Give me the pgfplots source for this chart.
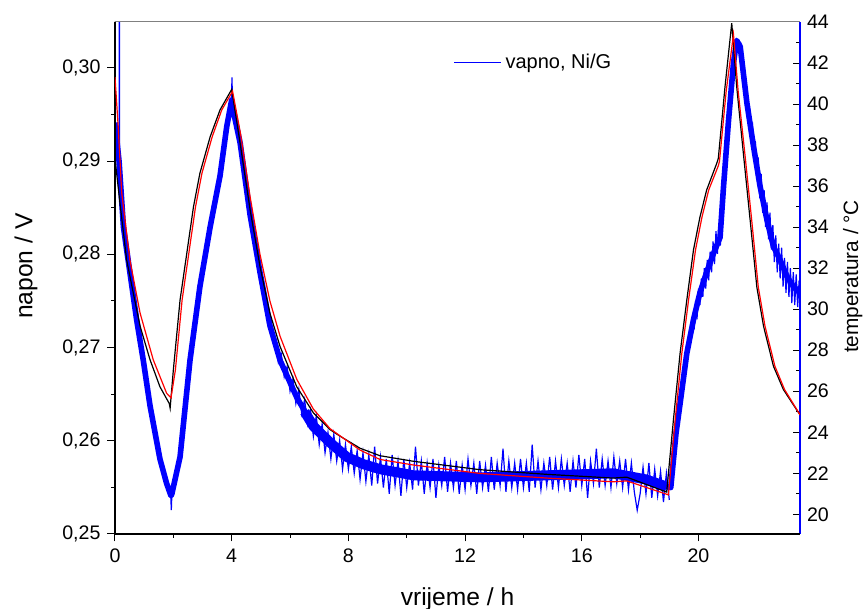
\documentclass[border=0pt]{standalone}
\usepackage{pgfplots}
\pgfplotsset{compat=1.18}
\usepackage{fontspec}
\setmainfont{Liberation Sans}

% temperature (blue, right axis): centre of the band
\pgfplotstableread{
x T
0     39.1
0.14  37.2
0.29  34.0
0.51  31.8
0.74  29.5
0.97  27.5
1.20  25.3
1.54  22.7
1.77  21.5
1.92  20.9
1.95  21.0
2.23  22.8
2.57  27.5
2.91  31.1
3.26  34.0
3.60  36.5
3.83  38.9
4.00  40.2
4.02  39.9
4.29  38.1
4.63  34.6
4.97  31.8
5.31  29.2
5.66  27.5
6.23  25.7
6.80  24.3
7.37  23.5
7.94  22.8
9.08  22.2
10.23 21.9
12.51 21.8
14.80 21.9
17.08 22.0
18.20 21.7
18.91 21.35
19.05 21.3
19.23 23.95
19.37 25.4
19.60 27.85
19.83 29.5
20.05 30.8
20.28 31.8
20.51 32.7
20.74 33.5
20.86 36.0
21.03 39.2
21.20 42.0
21.31 43.1
21.43 42.8
21.66 40.05
21.89 37.9
22.11 36.0
22.34 34.4
22.57 33.05
22.80 32.4
23.03 31.6
23.26 31.1
23.48 30.8
}\temp

% broad part of the band on the plateau
\pgfplotstableread{
x T
6.50  25.0
6.80  24.3
7.37  23.5
7.94  22.8
8.50  22.45
9.08  22.2
10.23 21.9
12.51 21.8
14.80 21.9
17.08 22.0
18.20 21.7
18.91 21.35
}\tempband

% single spikes
\pgfplotstableread{
x T
0.14  37.2
0.15  46.0
0.16  36.8
}\spikea
\pgfplotstableread{
x T
1.91  21.0
1.93  20.2
1.95  21.0
}\spikeb
\pgfplotstableread{
x T
3.99  40.0
4.01  41.3
4.03  39.8
}\spikec

% scatter of the readings round the band
\pgfplotstableread{
x T
5.5 28.6
5.6 27.4
5.7 27.8
5.8 26.7
5.9 27.2
6.0 26.0
6.1 26.6
6.2 25.4
6.3 26.1
6.4 24.9
6.5 25.6
6.6 24.4
6.7 25.1
6.8 23.8
6.9 24.8
7.0 23.4
7.1 24.4
7.2 23.0
7.3 24.0
7.4 22.7
7.5 23.9
7.6 22.6
7.7 23.6
7.8 22.2
7.9 23.4
8.0 22.2
8.1 23.3
8.2 22.0
8.3 23.1
8.4 21.7
8.5 23.0
8.6 21.6
8.7 22.9
8.8 21.4
8.9 23.3
9.0 21.5
9.1 22.8
9.2 21.3
9.3 22.7
9.4 21.0
9.5 22.9
9.6 21.4
9.7 22.6
9.8 20.9
9.9 22.7
10.0 21.3
10.1 22.5
10.2 21.2
10.3 23.3
10.4 21.4
10.5 22.6
10.6 21.0
10.7 22.5
10.8 21.3
10.9 22.7
11.0 20.8
11.1 22.4
11.2 21.4
11.3 22.8
11.4 21.1
11.5 22.5
11.6 21.3
11.7 22.6
11.8 21.0
11.9 22.4
12.0 21.2
12.1 22.7
12.2 21.4
12.3 22.5
12.4 21.0
12.5 22.6
12.6 21.3
12.7 22.4
12.8 21.1
12.9 22.8
13.0 21.2
13.1 22.5
13.2 21.4
13.3 23.2
13.4 21.1
13.5 22.6
13.6 21.3
13.7 22.5
13.8 21.2
13.9 22.7
14.0 21.3
14.1 22.5
14.2 21.1
14.3 23.4
14.4 21.3
14.5 22.6
14.6 21.2
14.7 22.5
14.8 21.4
14.9 22.8
15.0 21.2
15.1 22.6
15.2 21.3
15.3 22.7
15.4 21.4
15.5 22.5
15.6 21.1
15.7 22.6
15.8 21.3
15.9 22.9
16.0 21.4
16.1 22.7
16.2 20.8
16.3 22.6
16.4 21.5
16.5 23.2
16.6 21.3
16.7 22.7
16.8 21.4
16.9 22.6
17.0 21.3
17.1 22.8
17.2 21.5
17.3 22.6
17.4 21.3
17.5 22.7
17.6 21.2
17.7 22.5
17.8 21.1
17.9 20.2
18.0 21.0
18.1 22.3
18.2 21.0
18.3 22.5
18.4 20.8
18.5 22.2
18.6 20.9
18.7 22.1
18.8 20.6
18.9 22.0
19.0 20.7
}\tempnoisea

\pgfplotstableread{
x T
19.85 29.0
19.90 30.4
19.95 29.5
20.00 31.0
20.05 30.2
20.10 31.5
20.15 30.6
20.20 32.0
20.25 31.0
20.30 32.4
20.35 31.4
20.40 32.8
20.45 31.8
20.50 33.3
20.55 32.2
20.60 33.8
20.65 32.7
20.70 34.2
20.75 33.1
20.80 34.7
}\tempnoiseb

\pgfplotstableread{
x T
21.45 43.0
21.50 41.4
21.55 42.0
21.60 40.2
21.65 40.9
21.70 39.1
21.75 39.9
21.80 38.1
21.85 39.1
21.90 37.2
21.95 38.2
22.00 36.3
22.05 37.4
22.10 35.4
22.15 36.6
22.20 34.7
22.25 35.8
22.30 34.0
22.35 35.2
22.40 33.4
22.45 34.7
22.50 32.9
22.55 34.1
22.60 32.3
22.65 33.6
22.70 31.8
22.75 33.2
22.80 31.5
22.85 33.0
22.90 31.1
22.95 32.5
23.00 30.8
23.05 32.3
23.10 30.6
23.15 32.0
23.20 30.3
23.25 31.8
23.30 30.2
23.35 31.7
23.40 30.1
23.45 31.4
23.48 30.5
}\tempnoisec

% voltage, black
\pgfplotstableread{
x V
0     0.312
0.01  0.2900
0.17  0.2855
0.40  0.2794
0.63  0.2758
0.86  0.2723
1.20  0.2687
1.54  0.2658
1.86  0.2640
1.89  0.2635
2.00  0.2676
2.23  0.2751
2.46  0.2801
2.69  0.2851
2.91  0.2887
3.26  0.2926
3.60  0.2955
4.00  0.2977
4.29  0.2919
4.63  0.2848
4.97  0.2787
5.31  0.2737
5.66  0.2701
6.23  0.2658
6.80  0.2630
7.37  0.2612
7.71  0.2605
8.40  0.2592
9.08  0.2584
10.23 0.2578
12.51 0.2569
14.80 0.2564
17.08 0.2560
17.54 0.2561
18.91 0.2545
19.14 0.2622
19.37 0.2694
19.60 0.2751
19.83 0.2805
20.05 0.2840
20.28 0.2869
20.63 0.2898
20.68 0.2903
20.91 0.2980
21.14 0.3048
21.31 0.2980
21.54 0.2908
21.77 0.2837
22.00 0.2765
22.23 0.2723
22.57 0.2680
22.91 0.2655
23.37 0.2633
23.48 0.2628
}\vblack

% voltage, red
\pgfplotstableread{
x V
0     0.2990
0.11  0.2937
0.23  0.2866
0.51  0.2794
0.86  0.2737
1.31  0.2687
1.77  0.2651
1.92  0.2646
2.07  0.2676
2.30  0.2751
2.53  0.2801
2.76  0.2851
2.98  0.2887
3.33  0.2926
3.66  0.2955
4.03  0.2975
4.30  0.2930
4.63  0.2862
4.97  0.2800
5.31  0.2750
5.66  0.2712
6.23  0.2666
6.80  0.2634
7.37  0.2613
8.40  0.2590
9.08  0.2580
10.23 0.2574
12.51 0.2565
14.80 0.2560
17.08 0.2556
17.54 0.2557
18.97 0.2542
19.20 0.2622
19.43 0.2694
19.66 0.2751
19.90 0.2805
20.12 0.2840
20.35 0.2869
20.68 0.2895
20.72 0.2900
20.95 0.2975
21.20 0.3036
21.36 0.2975
21.60 0.2905
21.83 0.2835
22.05 0.2765
22.28 0.2723
22.62 0.2680
22.95 0.2655
23.40 0.2632
23.48 0.2628
}\vred

\begin{document}
\begin{tikzpicture}
\pgfplotsset{
  every axis/.append style={
    width=342.5pt, height=256pt, scale only axis,
    xmin=0, xmax=23.48,
    /pgf/number format/assume math mode=true,
    tick label style={font=\fontsize{9.8}{11}\selectfont},
  }
}
\begin{axis}[name=tax, at={(0pt,0pt)}, anchor=south west,
  axis x line=none, axis y line*=right,
  ymin=19.04, ymax=44,
  ytick={20,22,...,44}, minor y tick num=1,
  tick align=inside,
  major tick length=3.5pt, minor tick length=2.2pt,
  y axis line style={blue, line width=1pt},
  ytick style={black, line width=0.5pt},
  ylabel={temperatura / °C},
  ylabel style={at={(axis description cs:1.077,0.503)}, anchor=center,
    font=\fontsize{10.4}{12}\selectfont},
  legend style={draw=none, fill=none, at={(axis description cs:0.485,0.92)}, anchor=west,
    font=\fontsize{10}{12}\selectfont},
  legend image code/.code={\draw[blue, line width=0.5pt] (0pt,0pt) -- (23.5pt,0pt);},
]
\addplot[blue, line width=2.8pt, line join=round] table[x=x, y=T] {\temp};
\addlegendentry{vapno, Ni/G}
\addplot[blue, line width=5pt, line join=round, forget plot] table[x=x, y=T] {\tempband};
\addplot[blue, line width=0.6pt, forget plot] table[x=x, y=T] {\spikea};
\addplot[blue, line width=0.6pt, forget plot] table[x=x, y=T] {\spikeb};
\addplot[blue, line width=0.6pt, forget plot] table[x=x, y=T] {\spikec};
\addplot[blue, line width=0.6pt, forget plot] table[x=x, y=T] {\tempnoisea};
\addplot[blue, line width=0.6pt, forget plot] table[x=x, y=T] {\tempnoiseb};
\addplot[blue, line width=0.6pt, forget plot] table[x=x, y=T] {\tempnoisec};
\end{axis}

\begin{axis}[name=vax, at={(0pt,0pt)}, anchor=south west,
  axis x line*=bottom, axis y line*=left,
  ymin=0.25, ymax=0.30493,
  xtick={0,4,...,20}, minor x tick num=1,
  ytick={0.25,0.26,...,0.30}, minor y tick num=1,
  tick align=outside,
  major tick length=3.75pt, minor tick length=1.9pt,
  axis line style={black, line width=1pt},
  tick style={black, line width=0.5pt},
  yticklabel style={/pgf/number format/.cd, use comma, fixed, fixed zerofill, precision=2},
  label style={font=\fontsize{12.3}{14}\selectfont},
  xlabel={vrijeme / h},
  xlabel style={at={(axis description cs:0.5,-0.1387)}, anchor=base},
  ylabel={napon / V},
  ylabel style={at={(axis description cs:-0.130,0.523)}, anchor=center},
]
\addplot[black, line width=0.6pt] table[x=x, y=V] {\vblack};
\addplot[red, line width=0.6pt] table[x=x, y=V] {\vred};
\end{axis}
\draw[gray, line width=0.5pt] (vax.north west) -- (vax.north east);
\pgfresetboundingbox
\path[use as bounding box] (-57.5pt,-37.5pt) rectangle (376pt,267pt);
\end{tikzpicture}
\end{document}
